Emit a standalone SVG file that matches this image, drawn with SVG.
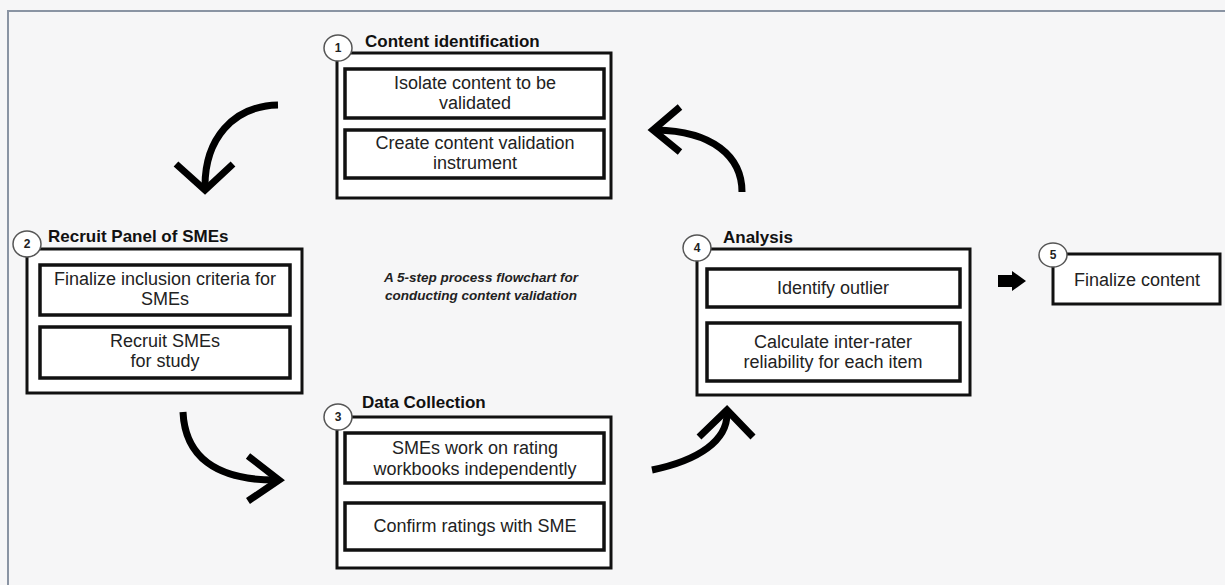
<svg xmlns="http://www.w3.org/2000/svg" width="1225" height="585" viewBox="0 0 1225 585">
<style>
.outer{fill:#ffffff;stroke:#111;stroke-width:3}
.inner{fill:#ffffff;stroke:#111;stroke-width:3.5}
.badge{fill:#ffffff;stroke:#555;stroke-width:1.5}
.num{font-family:"Liberation Sans",Arial,sans-serif;font-size:12px;font-weight:bold;fill:#222;text-anchor:middle}
.title{font-family:"Liberation Sans",Arial,sans-serif;font-size:17px;font-weight:bold;fill:#111}
.body{font-family:"Liberation Sans",Arial,sans-serif;font-size:18px;fill:#222;text-anchor:middle}
.cap{font-family:"Liberation Sans",Arial,sans-serif;font-size:13.5px;font-weight:bold;font-style:italic;fill:#222;text-anchor:middle}
.arc{fill:none;stroke:#000;stroke-width:7}
</style>
<rect x="0" y="0" width="1225" height="585" fill="#f6f6f7"/>
<path d="M8,585 L8,11 L1225,11" fill="none" stroke="#8a94a3" stroke-width="2"/>

<g id="node1">
<rect class="outer" x="337" y="53" width="274" height="145"/>
<rect class="inner" x="345" y="69" width="259" height="49"/>
<rect class="inner" x="345" y="130" width="259" height="48"/>
<ellipse class="badge" cx="338" cy="48" rx="14" ry="13"/>
<text class="num" x="338" y="52">1</text>
<text class="title" x="365" y="47">Content identification</text>
<text class="body" x="475" y="89">Isolate content to be</text>
<text class="body" x="475" y="109">validated</text>
<text class="body" x="475" y="149">Create content validation</text>
<text class="body" x="475" y="169">instrument</text>
</g>

<g id="node2">
<rect class="outer" x="27" y="249" width="275" height="144"/>
<rect class="inner" x="40" y="265" width="250" height="50"/>
<rect class="inner" x="40" y="327" width="250" height="51"/>
<ellipse class="badge" cx="27" cy="244" rx="14" ry="13"/>
<text class="num" x="27" y="248">2</text>
<text class="title" x="48" y="242">Recruit Panel of SMEs</text>
<text class="body" x="165" y="285">Finalize inclusion criteria for</text>
<text class="body" x="165" y="305">SMEs</text>
<text class="body" x="165" y="347">Recruit SMEs</text>
<text class="body" x="165" y="367">for study</text>
</g>

<g id="node3">
<rect class="outer" x="337" y="417" width="274" height="151"/>
<rect class="inner" x="345" y="433" width="259" height="50"/>
<rect class="inner" x="345" y="503" width="259" height="47"/>
<ellipse class="badge" cx="338" cy="417" rx="14" ry="13"/>
<text class="num" x="338" y="421">3</text>
<text class="title" x="362" y="408">Data Collection</text>
<text class="body" x="475" y="454">SMEs work on rating</text>
<text class="body" x="475" y="475">workbooks independently</text>
<text class="body" x="475" y="532">Confirm ratings with SME</text>
</g>

<g id="node4">
<rect class="outer" x="697" y="249" width="273" height="146"/>
<rect class="inner" x="707" y="269" width="253" height="38"/>
<rect class="inner" x="707" y="323" width="253" height="58"/>
<ellipse class="badge" cx="697" cy="248" rx="14" ry="13"/>
<text class="num" x="697" y="252">4</text>
<text class="title" x="723" y="243">Analysis</text>
<text class="body" x="833" y="294">Identify outlier</text>
<text class="body" x="833" y="348">Calculate inter-rater</text>
<text class="body" x="833" y="368">reliability for each item</text>
</g>

<g id="node5">
<rect class="outer" x="1053" y="254" width="167" height="50"/>
<ellipse class="badge" cx="1053" cy="255" rx="14" ry="12"/>
<text class="num" x="1053" y="259">5</text>
<text class="body" x="1137" y="286">Finalize content</text>
</g>

<g id="caption">
<text class="cap" x="481" y="282">A 5-step process flowchart for</text>
<text class="cap" x="481" y="300">conducting content validation</text>
</g>

<g id="connectors">
<path class="arc" d="M278,105 C232,106 205,140 205,186"/>
<path class="arc" d="M176,164 L205,190 L233,164"/>
<path class="arc" d="M742,192 C742,156 712,131 656,130"/>
<path class="arc" d="M680,107 L653,130 L680,152"/>
<path class="arc" d="M183,412 C185,456 215,480 275,480"/>
<path class="arc" d="M248,456 L279,480 L248,501"/>
<path class="arc" d="M652,470 C700,460 727,440 727,414"/>
<path class="arc" d="M699,437 L727,410 L753,437"/>
<path d="M998,275 L1012,275 L1012,271 L1026,281 L1012,291 L1012,287 L998,287 Z" fill="#000"/>
</g>
</svg>
